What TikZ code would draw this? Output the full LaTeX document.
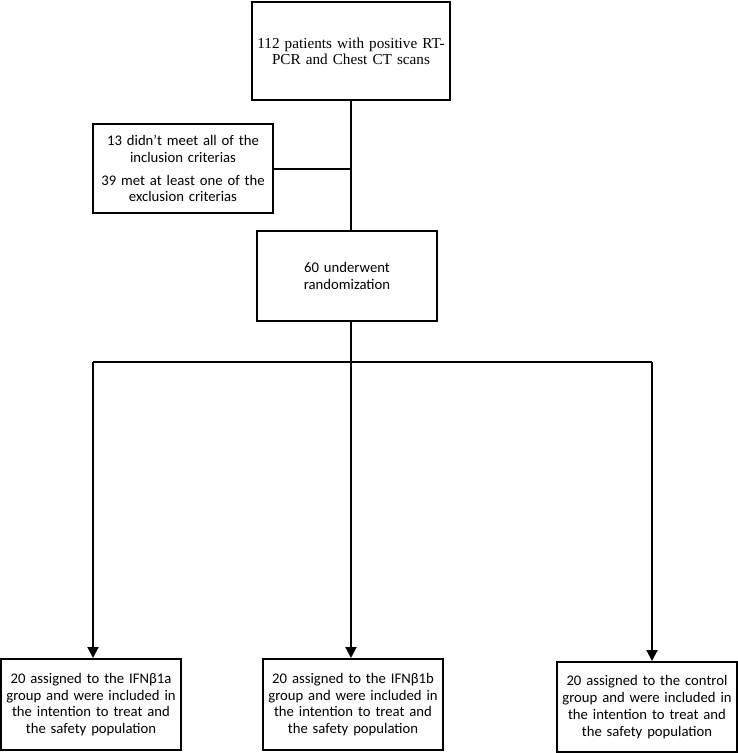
\documentclass[tikz,border=0pt]{standalone}
\usepackage{fontspec}
\setmainfont{Carlito}
\newfontfamily\serifrm{Liberation Serif}
\usetikzlibrary{arrows.meta}
\begin{document}
\begin{tikzpicture}[x=1pt,y=-1pt,
  box/.style={draw=black,line width=2pt,fill=white,align=center,inner sep=1pt,
    font=\fontsize{14.7}{16.8}\selectfont},
  link/.style={line width=2pt},
  arr/.style={line width=2pt,-{Triangle[width=11pt,length=11pt]}}]
\useasboundingbox (0,0) rectangle (738,753);
\node[box,minimum width=198pt,minimum height=98pt,text width=196pt,
  font=\serifrm\fontsize{15.2}{15.8}\selectfont] (top) at (351,51)
  {112 patients with positive RT-\\PCR and Chest CT scans};
\node[box,minimum width=180pt,minimum height=89pt,text width=178pt] (excl) at (183,168.5)
  {13 didn't meet all of the\\inclusion criterias\\[6pt]39 met at least one of the\\exclusion criterias};
\node[box,minimum width=180pt,minimum height=90pt,text width=178pt] (rand) at (347,276)
  {60 underwent\\randomization};
\node[box,minimum width=180pt,minimum height=91pt,text width=178pt] (b1) at (91,704.5)
  {20 assigned to the IFNβ1a\\group and were included in\\the intention to treat and\\the safety population};
\node[box,minimum width=180pt,minimum height=91pt,text width=178pt] (b2) at (353,704.5)
  {20 assigned to the IFNβ1b\\group and were included in\\the intention to treat and\\the safety population};
\node[box,minimum width=180pt,minimum height=90pt,text width=178pt] (b3) at (647,707)
  {20 assigned to the control\\group and were included in\\the intention to treat and\\the safety population};
\coordinate (jl) at (93,362);
\coordinate (jm) at (351,362);
\coordinate (jr) at (652,362);
\draw[link] (top.south) -- (top.south |- rand.north);
\draw[link] (excl.east) -- (excl.east -| top.south);
\draw[link] (rand.south -| jm) -- (jm);
\draw[link] (jl) -- (jr);
\draw[arr] (jl) -- (jl |- b1.north);
\draw[arr] (jm) -- (jm |- b2.north);
\draw[arr] (jr) -- (jr |- b3.north);
\end{tikzpicture}
\end{document}
